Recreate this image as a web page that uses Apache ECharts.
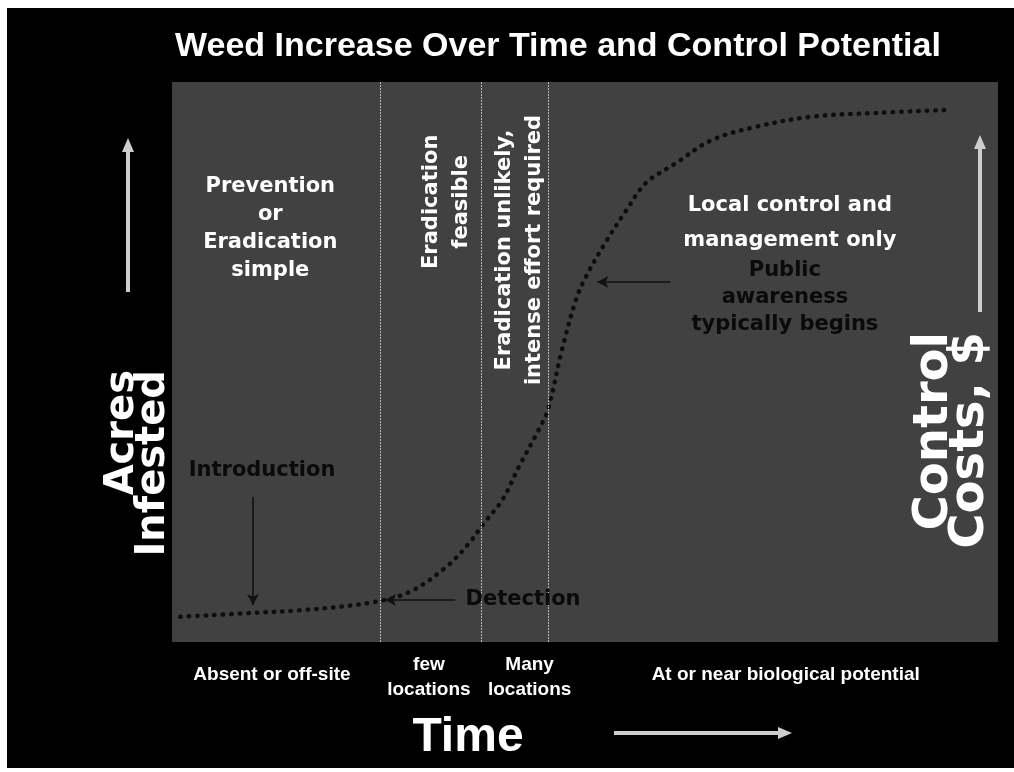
<!DOCTYPE html>
<html><head><meta charset="utf-8">
<script src="https://cdn.jsdelivr.net/npm/echarts@6/dist/echarts.min.js"></script>
<style>html,body{margin:0;padding:0;background:#fff;}#c{width:1014px;height:772px;}</style>
</head><body><div id="c"></div>
<script>
// ---- data ----
const titleText = 'Weed Increase Over Time and Control Potential';
const phaseBounds = [25.2, 37.4, 45.5];
const curveX = [1.0, 9.8, 15.8, 23.9, 28.7, 33.2, 36.0, 37.6, 40.0, 42.0, 44.4, 45.5, 47.2, 48.9, 50.1, 52.3, 55.0, 57.4, 61.0, 65.3, 70.7, 77.4, 85.5, 93.6];
const curveY = [4.5, 5.2, 5.7, 7.0, 8.9, 13.4, 17.7, 20.9, 25.4, 31.3, 37.9, 41.4, 52.1, 61.1, 65.2, 70.9, 77.1, 82.0, 85.5, 89.6, 92.0, 93.8, 94.5, 95.0];
const phaseLabels = ['Absent or off-site', 'few\nlocations', 'Many\nlocations', 'At or near biological potential'];
const phaseLabelX = [12.1, 31.1, 43.3, 74.3];
const whiteNotes = ['Prevention\nor\nEradication\nsimple', 'Local control and\nmanagement only'];
const whiteNoteX = [11.9, 74.8];
const whiteNoteY = [73.9, 74.9];
const rotNotes = ['Eradication\nfeasible', 'Eradication unlikely,\nintense effort required'];
const rotNoteX = [33.2, 42.1];
const rotNoteY = [78.6, 70.0];
const darkNotes = ['Introduction', 'Detection', 'Public\nawareness\ntypically begins'];
const darkNoteX = [10.9, 42.5, 74.2];
const darkNoteY = [30.7, 7.5, 61.5];
const arrowFrom = [[9.8, 25.9], [34.3, 7.5], [60.3, 64.3]];
const arrowTo = [[9.8, 6.6], [25.8, 7.5], [51.5, 64.3]];
const yNameLeft = 'Acres\nInfested';
const yNameRight = 'Control\nCosts, $';
const xName = 'Time';

// ---- chart ----
const chart = echarts.init(document.getElementById('c'), null, {renderer: 'canvas'});
const WF = 'DejaVu Sans';
const AF = 'Liberation Sans';

const noteData = [];
whiteNotes.forEach((t, i) => noteData.push({
  value: [whiteNoteX[i], whiteNoteY[i]],
  label: {show: true, formatter: t, color: '#ffffff', opacity: 1, fontFamily: WF, fontWeight: 'bold', fontSize: 21,
    lineHeight: i === 0 ? 28 : 35, align: 'center', verticalAlign: 'middle', position: 'inside'}
}));
rotNotes.forEach((t, i) => noteData.push({
  value: [rotNoteX[i], rotNoteY[i]],
  label: {show: true, formatter: t, color: '#ffffff', opacity: 1, fontFamily: WF, fontWeight: 'bold', fontSize: 21,
    lineHeight: 30, rotate: 90, align: 'center', verticalAlign: 'middle', position: 'inside'}
}));
darkNotes.forEach((t, i) => noteData.push({
  value: [darkNoteX[i], darkNoteY[i]],
  label: {show: true, formatter: t, color: '#0a0a0a', opacity: 1, fontFamily: WF, fontWeight: 'bold', fontSize: 21,
    lineHeight: 27, align: 'center', verticalAlign: 'middle', position: 'inside'}
}));

const arrowLines = arrowFrom.map((f, i) => [{coord: f}, {coord: arrowTo[i]}]);

const option = {
  backgroundColor: '#fff',
  animation: false,
  grid: {left: 172, right: 16, top: 82, bottom: 130, show: true, backgroundColor: '#414141', borderWidth: 0},
  xAxis: {type: 'value', min: 0, max: 100, show: false},
  yAxis: {type: 'value', min: 0, max: 100, show: false},
  series: [
    {
      type: 'line', data: curveX.map((x, i) => [x, curveY[i]]), smooth: 0.35, symbol: 'none',
      lineStyle: {color: '#0e0e0e', width: 4.5, type: [0.5, 8], cap: 'round'},
      markLine: {
        silent: true, symbol: 'none', label: {show: false},
        lineStyle: {color: '#b5b5b5', width: 1, type: [2, 1]},
        data: phaseBounds.map(v => ({xAxis: v}))
      },
      z: 3
    },
    {
      type: 'line', data: [], symbol: 'none',
      markLine: {
        silent: true, symbol: ['none', 'arrow'], symbolSize: [9, 11], label: {show: false},
        lineStyle: {color: '#111', width: 1.6, type: 'solid'},
        data: arrowLines
      }
    },
    {
      type: 'scatter', symbolSize: 0, data: noteData, z: 5, silent: true,
      itemStyle: {opacity: 1}
    }
  ]
};
chart.setOption(option);

// graphics placed from axis scales
const g = [];
g.push({type: 'rect', z: -10, shape: {x: 7, y: 8, width: 1007, height: 760}, style: {fill: '#000'}});
g.push({type: 'text', x: 558, y: 47, style: {text: titleText, fill: '#fff', font: 'bold 34px ' + AF, align: 'center', verticalAlign: 'middle'}});
const baseY = chart.convertToPixel({gridIndex: 0}, [0, 0])[1];
phaseLabels.forEach((t, i) => {
  const px = chart.convertToPixel({gridIndex: 0}, [phaseLabelX[i], 0])[0];
  const twoLine = t.indexOf('\n') >= 0;
  g.push({type: 'text', x: px, y: baseY + (twoLine ? 10 : 20), style: {text: t, fill: '#fff', font: 'bold 19px ' + AF,
    align: 'center', verticalAlign: 'top', lineHeight: 25}});
});
g.push({type: 'text', x: 138, y: 370, rotation: Math.PI / 2, style: {text: yNameLeft, fill: '#fff', font: 'bold 40px ' + WF, align: 'right', verticalAlign: 'middle', lineHeight: 31}});
g.push({type: 'text', x: 953, y: 332, rotation: Math.PI / 2, style: {text: yNameRight, fill: '#fff', font: 'bold 48px ' + WF, align: 'right', verticalAlign: 'middle', lineHeight: 36}});
g.push({type: 'text', x: 468, y: 738, style: {text: xName, fill: '#fff', font: 'bold 48px ' + AF, align: 'center', verticalAlign: 'middle'}});
function arrow(x1, y1, x2, y2) {
  const ang = Math.atan2(y2 - y1, x2 - x1);
  const L = 14, W = 6;
  const bx = x2 - L * Math.cos(ang), by = y2 - L * Math.sin(ang);
  g.push({type: 'line', shape: {x1, y1, x2: bx, y2: by}, style: {stroke: '#cdcdcd', lineWidth: 4}});
  g.push({type: 'polygon', shape: {points: [[x2, y2], [bx - W * Math.sin(ang), by + W * Math.cos(ang)], [bx + W * Math.sin(ang), by - W * Math.cos(ang)]]}, style: {fill: '#cdcdcd'}});
}
arrow(128, 292, 128, 138);
arrow(980, 312, 980, 135);
arrow(614, 733, 792, 733);
chart.setOption({graphic: g});
</script></body></html>
